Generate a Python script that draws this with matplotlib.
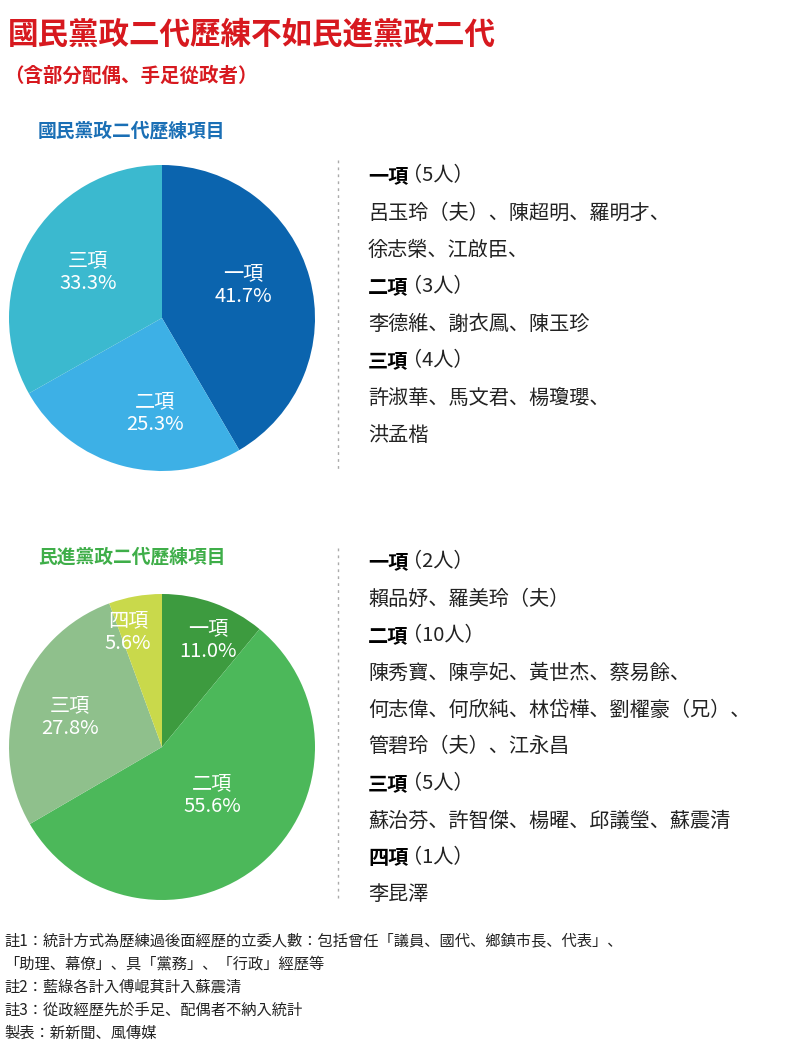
import matplotlib
matplotlib.use("Agg")
import matplotlib.pyplot as plt

plt.rcParams["font.family"] = "sans-serif"
plt.rcParams["font.sans-serif"] = ["Noto Sans CJK TC", "Noto Sans CJK JP", "Noto Sans CJK SC",
                                   "Noto Sans CJK KR", "DejaVu Sans"]

W, H = 800, 1057

kmt_labels = ["一項", "二項", "三項"]
kmt_values = [41.7, 25.3, 33.3]
kmt_colors = ["#0b64ae", "#3db0e6", "#3bb9cf"]

dpp_labels = ["一項", "二項", "三項", "四項"]
dpp_values = [11.0, 55.6, 27.8, 5.6]
dpp_colors = ["#3d9b3f", "#4cb85a", "#8fc08c", "#c9d94b"]

kmt_list = [
    ("一項", "（5人）", ["呂玉玲（夫）、陳超明、羅明才、", "徐志榮、江啟臣、"]),
    ("二項", "（3人）", ["李德維、謝衣鳳、陳玉珍"]),
    ("三項", "（4人）", ["許淑華、馬文君、楊瓊瓔、", "洪孟楷"]),
]
dpp_list = [
    ("一項", "（2人）", ["賴品妤、羅美玲（夫）"]),
    ("二項", "（10人）", ["陳秀寶、陳亭妃、黃世杰、蔡易餘、", "何志偉、何欣純、林岱樺、劉櫂豪（兄）、", "管碧玲（夫）、江永昌"]),
    ("三項", "（5人）", ["蘇治芬、許智傑、楊曜、邱議瑩、蘇震清"]),
    ("四項", "（1人）", ["李昆澤"]),
]
notes = [
    "註1：統計方式為歷練過後面經歷的立委人數：包括曾任「議員、國代、鄉鎮市長、代表」、",
    "「助理、幕僚」、具「黨務」、「行政」經歷等",
    "註2：藍綠各計入傅崐萁計入蘇震清",
    "註3：從政經歷先於手足、配偶者不納入統計",
    "製表：新新聞、風傳媒",
]

fig = plt.figure(figsize=(W / 100, H / 100), dpi=100)
fig.patch.set_facecolor("white")

def fy(y):
    return 1 - y / H

fig.text(8 / W, fy(35), "國民黨政二代歷練不如民進黨政二代", color="#d7191f",
         fontsize=22, fontweight="bold", va="center")
fig.text(4 / W, fy(76), "（含部分配偶、手足從政者）", color="#d7191f",
         fontsize=14, fontweight="bold", va="center")
fig.text(38 / W, fy(131), "國民黨政二代歷練項目", color="#1a6fb5",
         fontsize=13.5, fontweight="bold", va="center")
fig.text(38 / W, fy(557), "民進黨政二代歷練項目", color="#3fae49",
         fontsize=13.5, fontweight="bold", va="center")


def pie(cx, cy, r, vals, cols, labels, pos):
    ax = fig.add_axes([(cx - r) / W, fy(cy + r), 2 * r / W, 2 * r / H])
    ax.pie(vals, colors=cols, startangle=90, counterclock=False,
           wedgeprops=dict(linewidth=0))
    ax.set_xlim(-1, 1)
    ax.set_ylim(-1, 1)
    ax.set_aspect("equal")
    for lab, v, (x, y) in zip(labels, vals, pos):
        fig.text(x / W, fy(y), f"{lab}\n{v:.1f}%", color="white", fontsize=14.5,
                 ha="center", va="center", linespacing=1.1)


pie(162, 318, 153, kmt_values, kmt_colors, kmt_labels,
    [(243, 285), (155, 413), (88, 272)])
pie(162, 747, 153, dpp_values, dpp_colors, dpp_labels,
    [(208, 640), (212, 795), (70, 717), (128, 632)])


def block(items, y0, step=37):
    y = y0
    for head, cnt, lines in items:
        fig.text(368 / W, fy(y), head, fontsize=14.5, fontweight="bold", va="center")
        fig.text(402 / W, fy(y), cnt, fontsize=14.5, va="center", color="#222")
        y += step
        for ln in lines:
            fig.text(368 / W, fy(y), ln, fontsize=14.5, va="center", color="#222")
            y += step
    return y


block(kmt_list, 176)
block(dpp_list, 562)

for y0, y1 in [(160, 470), (548, 898)]:
    fig.add_artist(plt.Line2D([338 / W, 338 / W], [fy(y0), fy(y1)], color="#aaa",
                              linestyle=(0, (2, 3)), linewidth=1))

y = 941
for n in notes:
    fig.text(4 / W, fy(y), n, fontsize=11, va="center", color="#222")
    y += 23

fig.savefig("out.png", dpi=100, facecolor="white")
